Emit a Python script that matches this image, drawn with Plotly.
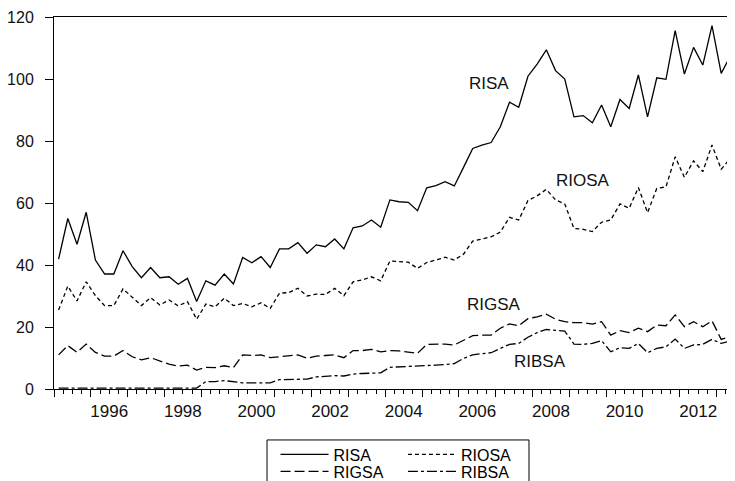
import plotly.graph_objects as go

# Quarterly observations, 1995Q1 onward
start_year = 1995
n_obs = 75
quarters = [f"{start_year + i // 4}Q{i % 4 + 1}" for i in range(n_obs)]

RISA = [41.9, 55.0, 46.7, 57.0, 41.6, 37.1, 37.1, 44.6, 39.5, 35.9,
        39.2, 35.9, 36.2, 33.8, 35.7, 28.2, 34.9, 33.5, 37.1, 33.9,
        42.4, 40.7, 42.7, 39.2, 45.2, 45.2, 47.2, 43.8, 46.5, 45.9,
        48.4, 45.2, 52.0, 52.6, 54.5, 52.2, 61.0, 60.4, 60.2, 57.5,
        64.9, 65.6, 66.9, 65.5, 71.5, 77.6, 78.7, 79.5, 84.6, 92.5,
        90.9, 100.9, 104.8, 109.4, 102.7, 100.0, 87.8, 88.2, 85.9, 91.6,
        84.6, 93.4, 90.5, 101.3, 87.8, 100.4, 99.9, 115.6, 101.6, 110.2,
        104.5, 117.2, 101.8, 107.4, 104.0]

RIOSA = [25.5, 33.2, 28.4, 34.6, 30.1, 26.9, 26.9, 32.3, 29.6, 26.9,
         29.5, 27.1, 28.7, 26.8, 28.2, 22.5, 27.4, 26.5, 29.3, 26.9,
         27.6, 26.5, 27.8, 26.0, 30.9, 31.1, 32.5, 30.0, 30.6, 30.5,
         32.5, 30.1, 34.6, 35.2, 36.2, 34.9, 41.3, 41.1, 40.9, 38.9,
         40.8, 41.6, 42.5, 41.6, 43.5, 47.7, 48.4, 49.1, 50.6, 55.4,
         54.5, 60.8, 62.3, 64.4, 61.0, 59.7, 51.8, 51.5, 50.8, 53.8,
         54.5, 59.7, 58.3, 65.0, 56.9, 64.7, 65.2, 74.9, 68.3, 73.6,
         70.1, 78.7, 70.9, 74.4, 72.5]

RIGSA = [11.0, 14.0, 11.8, 14.5, 11.8, 10.6, 10.6, 12.4, 10.4, 9.4,
         10.1, 9.0, 8.0, 7.4, 7.7, 6.1, 7.0, 6.9, 7.5, 6.9,
         11.0, 10.8, 11.0, 10.1, 10.4, 10.6, 11.0, 9.9, 10.6, 10.8,
         11.0, 10.1, 12.4, 12.4, 12.8, 12.0, 12.4, 12.3, 12.0, 11.5,
         14.4, 14.5, 14.5, 14.2, 15.8, 17.2, 17.4, 17.4, 19.6, 21.0,
         20.4, 22.7, 23.3, 24.1, 22.5, 21.7, 21.4, 21.4, 20.9, 21.7,
         17.4, 18.8, 18.2, 19.6, 18.5, 20.6, 20.4, 23.9, 20.1, 21.7,
         20.1, 22.0, 16.0, 16.9, 16.3]

RIBSA = [0.3, 0.3, 0.3, 0.3, 0.3, 0.3, 0.3, 0.3, 0.3, 0.3,
         0.3, 0.3, 0.3, 0.3, 0.3, 0.3, 2.4, 2.4, 2.7, 2.4,
         2.0, 2.0, 2.0, 2.0, 3.0, 3.0, 3.1, 3.2, 3.9, 4.1,
         4.3, 4.2, 4.8, 5.0, 5.2, 5.2, 7.0, 7.1, 7.2, 7.3,
         7.5, 7.7, 7.9, 8.2, 9.9, 11.0, 11.4, 11.7, 13.1, 14.4,
         14.7, 16.7, 18.2, 19.2, 18.9, 18.7, 14.5, 14.4, 14.7, 15.6,
         12.0, 13.3, 13.1, 14.7, 11.7, 13.1, 13.6, 16.1, 13.1, 14.2,
         14.4, 16.0, 14.7, 15.5, 16.0]

year_labels = ["1996", "1998", "2000", "2002", "2004", "2006", "2008", "2010", "2012"]

# numeric time position: middle of each quarter
def qpos(q):
    y, k = q.split("Q")
    return int(y) + (int(k) - 0.5) / 4

x = [qpos(q) for q in quarters]
label_pos = [int(s) + 0.5 for s in year_labels]

FONT = "Liberation Sans, Arial, sans-serif"
LW = 1.3

fig = go.Figure()
fig.add_trace(go.Scatter(x=x, y=RISA, name="RISA", mode="lines",
                         line=dict(color="black", width=LW), legend="legend"))
fig.add_trace(go.Scatter(x=x, y=RIOSA, name="RIOSA", mode="lines",
                         line=dict(color="black", width=LW, dash="4px,3px"), legend="legend2"))
fig.add_trace(go.Scatter(x=x, y=RIGSA, name="RIGSA", mode="lines",
                         line=dict(color="black", width=LW, dash="10px,4px"), legend="legend3"))
fig.add_trace(go.Scatter(x=x, y=RIBSA, name="RIBSA", mode="lines", xaxis="x2",
                         line=dict(color="black", width=LW, dash="10px,3px,3px,3px"), legend="legend4"))

labels = [("RISA", 2006.82, 98.7), ("RIOSA", 2009.37, 67.1),
          ("RIGSA", 2006.94, 27.4), ("RIBSA", 2008.19, 9.0)]
for t, ax_, ay_ in labels:
    fig.add_annotation(x=ax_, y=ay_, text=t, showarrow=False,
                       font=dict(family=FONT, size=17, color="#111"),
                       xanchor="center", yanchor="middle")

legend_common = dict(orientation="v", bgcolor="rgba(0,0,0,0)", borderwidth=0,
                     font=dict(family=FONT, size=16, color="black"),
                     yanchor="top", xanchor="left", tracegroupgap=0,
                     itemwidth=48)

col1, col2 = 0.3253, 0.5124
row1, row2 = -0.1303, -0.1760

# the page body adds an 8px offset; the figure is sized to fill the rest of the window
fig.update_layout(
    width=727, height=473, autosize=False,
    margin=dict(l=46, r=0, t=9, b=92, autoexpand=False),
    paper_bgcolor="white", plot_bgcolor="white",
    font=dict(family=FONT, color="black"),
    showlegend=True,
    legend=dict(x=col1, y=row1, **legend_common),
    legend2=dict(x=col2, y=row1, **legend_common),
    legend3=dict(x=col1, y=row2, **legend_common),
    legend4=dict(x=col2, y=row2, **legend_common),
    xaxis=dict(range=[1995, 2013.5], tickmode="linear", tick0=1995, dtick=1,
               showticklabels=False, ticks="outside", ticklen=7, tickwidth=1,
               tickcolor="black", showline=True, linecolor="black", linewidth=1,
               mirror=True, showgrid=False, zeroline=False, automargin=False,
               minor=dict(dtick=0.25, tick0=1995, ticks="outside", ticklen=4,
                          tickwidth=1, tickcolor="black", showgrid=False)),
    xaxis2=dict(range=[1995, 2013.5], overlaying="x", matches="x", anchor="y",
                side="bottom", tickmode="array", tickvals=label_pos,
                ticktext=year_labels, ticks="", showline=False, showgrid=False,
                zeroline=False, automargin=False,
                tickfont=dict(family=FONT, size=17, color="#111"),
                ticklabelstandoff=10),
    yaxis=dict(range=[0, 120], tickmode="linear", tick0=0, dtick=20,
               ticks="outside", ticklen=8, tickwidth=1, tickcolor="black",
               showline=True, linecolor="black", linewidth=1,
               showgrid=False, zeroline=False, automargin=False,
               tickfont=dict(family=FONT, size=16, color="#111"),
               ticklabelstandoff=8),
)

fig.add_shape(type="rect", xref="paper", yref="paper",
              x0=0.3128, x1=0.6975, y0=-0.137, y1=-0.40,
              line=dict(color="black", width=1), fillcolor="rgba(0,0,0,0)")

fig.write_html("out.html")
